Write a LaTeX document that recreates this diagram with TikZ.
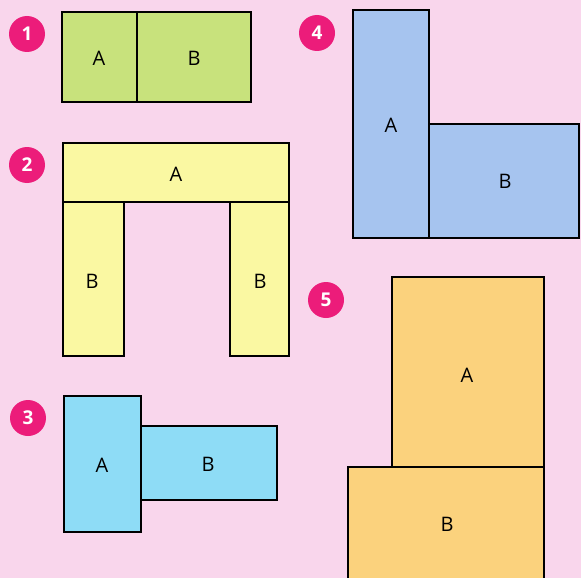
\documentclass[tikz,border=0pt]{standalone}
\usepackage{fontspec}
\setmainfont{Open Sans}
\usepackage{tikz}
\definecolor{bgpink}{RGB}{249,214,236}
\definecolor{badgepink}{RGB}{236,28,122}
\definecolor{pcgreen}{RGB}{200,226,124}
\definecolor{pcyellow}{RGB}{250,248,162}
\definecolor{pccyan}{RGB}{142,220,246}
\definecolor{pcblue}{RGB}{166,196,239}
\definecolor{pcorange}{RGB}{251,210,125}
\tikzset{
  piece/.style={draw=black, line width=2.6pt, line join=miter},
  lbl/.style={font=\fontsize{20}{20}\selectfont, inner sep=0pt},
  badge/.style={circle, fill=badgepink, minimum size=36pt, inner sep=0pt,
    text=white, font=\fontsize{19}{19}\selectfont\bfseries}
}

\begin{document}
\begin{tikzpicture}[x=1pt, y=-1pt]
    % --- 0. background ---
    \useasboundingbox (0,0) rectangle (581,578);
    \clip (0,0) rectangle (581,578);
    \fill[bgpink] (0,0) rectangle (581,578);

    % --- 1. two side by side ---
    \node[badge] (n1) at (27,34) {1};
    \draw[piece, fill=pcgreen] (62,12) rectangle (137,102);
    \draw[piece, fill=pcgreen] (137,12) rectangle (251,102);
    \node[lbl] (a1) at (99,58) {A};
    \node[lbl] (b1) at (194,58) {B};

    % --- 2. arch ---
    \node[badge] (n2) at (27,165) {2};
    \draw[piece, fill=pcyellow] (63,143) rectangle (289,202);
    \draw[piece, fill=pcyellow] (63,202) rectangle (124,356);
    \draw[piece, fill=pcyellow] (230,202) rectangle (289,356);
    \node[lbl] (a2) at (176,174) {A};
    \node[lbl] (b2l) at (92,281) {B};
    \node[lbl] (b2r) at (260,281) {B};

    % --- 3. T on its side ---
    \node[badge] (n3) at (28,418) {3};
    \draw[piece, fill=pccyan] (64,396) rectangle (141,532);
    \draw[piece, fill=pccyan] (141,426) rectangle (277,500);
    \node[lbl] (a3) at (102,465) {A};
    \node[lbl] (b3) at (208,464) {B};

    % --- 4. L shape ---
    \node[badge] (n4) at (317,33) {4};
    \draw[piece, fill=pcblue] (353,10) rectangle (429,238);
    \draw[piece, fill=pcblue] (429,124) rectangle (579,238);
    \node[lbl] (a4) at (391,125) {A};
    \node[lbl] (b4) at (505,181) {B};

    % --- 5. stacked ---
    \node[badge] (n5) at (326,300) {5};
    \draw[piece, fill=pcorange] (392,277) rectangle (544,467);
    \draw[piece, fill=pcorange] (348,467) rectangle (544,600);
    \node[lbl] (a5) at (467,375) {A};
    \node[lbl] (b5) at (447,524) {B};
\end{tikzpicture}
\end{document}
